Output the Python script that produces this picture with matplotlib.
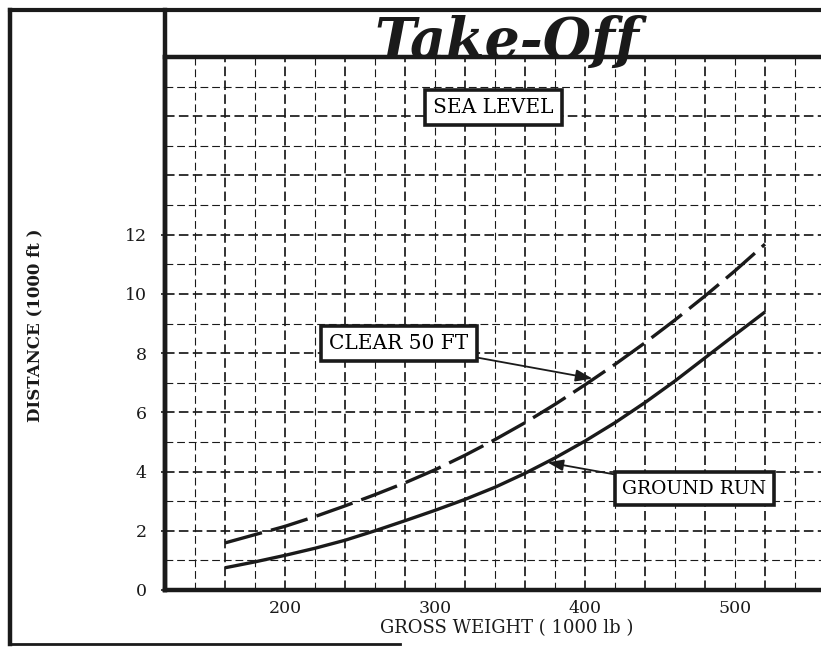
import matplotlib.pyplot as plt
from matplotlib.lines import Line2D

# gross weight (1000 lb) vs distance (1000 ft), sea level
weight = [160, 180, 200, 220, 240, 260, 280, 300, 320, 340,
          360, 380, 400, 420, 440, 460, 480, 500, 520]
ground_run = [0.75, 0.95, 1.17, 1.41, 1.68, 2.00, 2.34, 2.69, 3.06, 3.47,
              3.94, 4.46, 5.03, 5.65, 6.33, 7.06, 7.84, 8.62, 9.39]
clear_50ft = [1.59, 1.87, 2.15, 2.48, 2.84, 3.22, 3.62, 4.06, 4.55, 5.08,
              5.65, 6.27, 6.93, 7.62, 8.35, 9.12, 9.93, 10.78, 11.68]

x_ticks = [200, 300, 400, 500]
y_ticks = [0, 2, 4, 6, 8, 10, 12]

W, H = 821, 647
ink = '#1a1a1a'
serif = 'DejaVu Serif'

fig = plt.figure(figsize=(W / 100, H / 100), dpi=100)
fig.patch.set_facecolor('white')

def px(x, y):
    return x / W, 1 - y / H

l, b = px(165, 590)
r, t = px(821, 57)
ax = fig.add_axes([l, b, r - l, t - b])
ax.set_xlim(120, 120 + (821 - 165) / 1.5)
ax.set_ylim(0, 18)

# grid paper: dashed, a bit heavier every 40 / every 2
for gx in range(140, 560, 20):
    major = (gx % 40 == 0)
    ax.axvline(gx, color=ink, lw=1.25 if major else 0.8,
               ls=(0, (5.5, 2.5)) if major else (0, (7, 3.5)), zorder=1)
for gy in range(1, 18):
    major = (gy % 2 == 0)
    ax.axhline(gy, color=ink, lw=1.25 if major else 0.8,
               ls=(0, (5.5, 2.5)) if major else (0, (7, 3.5)), zorder=1)

ax.plot(weight, ground_run, color=ink, lw=2.4, solid_capstyle='butt', zorder=3)
ax.plot(weight, clear_50ft, color=ink, lw=2.4, dashes=(11.5, 2.8),
        dash_capstyle='butt', zorder=3)

for s in ['left', 'bottom', 'top']:
    ax.spines[s].set_linewidth(3.2)
    ax.spines[s].set_color(ink)
ax.spines['right'].set_visible(False)

ax.set_xticks(x_ticks)
ax.set_xticklabels([str(v) for v in x_ticks], fontsize=12.5, family=serif)
ax.set_yticks(y_ticks)
ax.set_yticklabels([str(v) for v in y_ticks], fontsize=12.5, family=serif)
ax.tick_params(axis='x', length=0, pad=7, colors=ink)
ax.tick_params(axis='y', length=3, width=1.2, pad=10, colors=ink)

box = dict(boxstyle='square,pad=0.4', fc='white', ec=ink, lw=2.6)
arrow = dict(arrowstyle='-|>,head_length=0.7,head_width=0.25', color=ink,
             lw=1.3, shrinkA=0, shrinkB=0)

ax.text(339, 16.28, 'SEA LEVEL', fontsize=14.5, family=serif, ha='center',
        va='center', bbox=box, zorder=5)
ax.annotate('CLEAR 50 FT', xy=(405, 7.14), xytext=(276, 8.33), fontsize=14.5,
            family=serif, ha='center', va='center', bbox=box,
            arrowprops=arrow, zorder=5)
ax.annotate('GROUND RUN', xy=(375, 4.31), xytext=(473, 3.42), fontsize=13.5,
            family=serif, ha='center', va='center', bbox=box,
            arrowprops=arrow, zorder=5)

# sheet frame and title strip
def fline(x0, y0, x1, y1, lw):
    (a, c), (d, e) = px(x0, y0), px(x1, y1)
    fig.add_artist(Line2D([a, d], [c, e], color=ink, lw=lw,
                          transform=fig.transFigure, solid_capstyle='projecting'))

fline(10, 10, 821, 10, 3.0)
fline(10, 10, 10, 644, 3.2)
fline(10, 644, 400, 644, 2.0)
fline(165, 10, 165, 590, 3.2)

fig.text(*px(507, 42), 'Take-Off', fontsize=40, family=serif, style='italic',
         weight='bold', ha='center', va='center', color=ink)

fig.text(*px(507, 628), 'GROSS WEIGHT ( 1000 lb )', fontsize=13,
         family=serif, ha='center', va='center', color=ink)
fig.text(*px(35, 325), 'DISTANCE (1000 ft )', fontsize=12, family=serif,
         weight='bold', rotation=90, ha='center', va='center', color=ink)

fig.savefig('out.png', dpi=100)
